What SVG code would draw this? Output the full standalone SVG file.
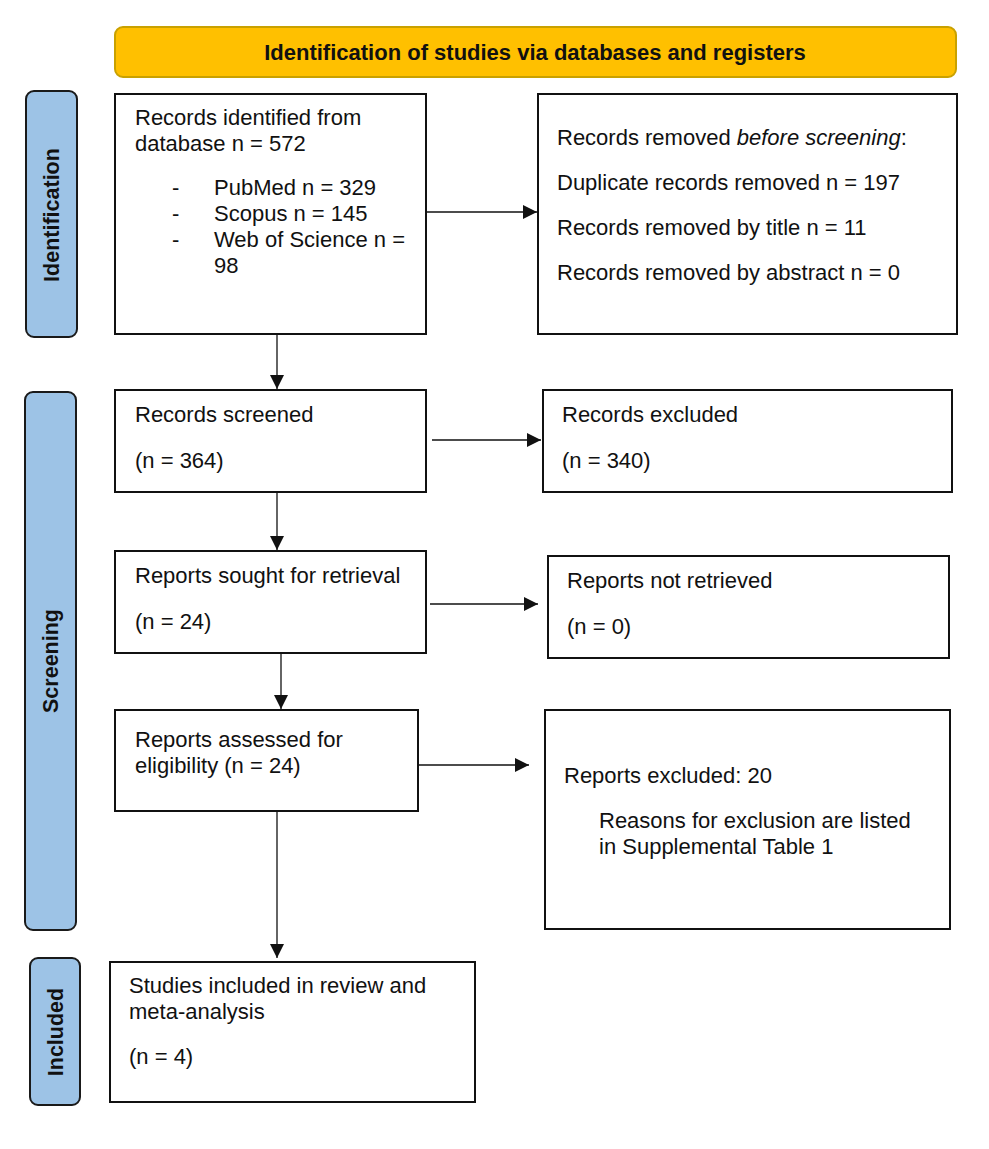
<svg xmlns="http://www.w3.org/2000/svg" width="989" height="1149" viewBox="0 0 989 1149">
<style>
.box{fill:#fff;stroke:#111;stroke-width:2}
.side{fill:#9DC3E6;stroke:#1a1a1a;stroke-width:2}
.t{font-family:"Liberation Sans",Arial,sans-serif;font-size:22px;fill:#111}
.st{font-family:"Liberation Sans",Arial,sans-serif;font-size:21.5px;font-weight:bold;fill:#111}
.ln{stroke:#111;stroke-width:1.3;fill:none}
</style>
<defs>
<marker id="ah" viewBox="0 0 14 14" refX="14" refY="7" markerWidth="14" markerHeight="14" markerUnits="userSpaceOnUse" orient="auto">
<path d="M0,0 L14,7 L0,14 z" fill="#111"/>
</marker>
</defs>
<rect width="989" height="1149" fill="#fff"/>
<g id="header">
<rect x="115" y="27" width="841" height="50" rx="8" fill="#FFC000" stroke="#C9A100" stroke-width="2"/>
<text x="535" y="60" text-anchor="middle" class="st" style="font-size:22px">Identification of studies via databases and registers</text>
</g>
<g id="side-identification">
<rect class="side" x="26" y="91" width="51" height="246" rx="8"/>
<text class="st" transform="translate(59,215) rotate(-90)" text-anchor="middle">Identification</text>
</g>
<g id="side-screening">
<rect class="side" x="25" y="392" width="51" height="538" rx="8"/>
<text class="st" transform="translate(58,661) rotate(-90)" text-anchor="middle">Screening</text>
</g>
<g id="side-included">
<rect class="side" x="30" y="958" width="50" height="147" rx="8"/>
<text class="st" transform="translate(63,1032) rotate(-90)" text-anchor="middle">Included</text>
</g>
<g id="records-identified">
<rect class="box" x="115" y="94" width="311" height="240"/>
<text class="t" x="135" y="125">Records identified from</text>
<text class="t" x="135" y="151">database n = 572</text>
<text class="t" x="172" y="195">-</text><text class="t" x="214" y="195">PubMed n = 329</text>
<text class="t" x="172" y="221">-</text><text class="t" x="214" y="221">Scopus n = 145</text>
<text class="t" x="172" y="247">-</text><text class="t" x="214" y="247">Web of Science n =</text>
<text class="t" x="214" y="273">98</text>
</g>
<g id="records-removed">
<rect class="box" x="538" y="94" width="419" height="240"/>
<text class="t" x="557" y="145">Records removed <tspan font-style="italic">before screening</tspan>:</text>
<text class="t" x="557" y="190">Duplicate records removed n = 197</text>
<text class="t" x="557" y="235">Records removed by title n = 11</text>
<text class="t" x="557" y="280">Records removed by abstract n = 0</text>
</g>
<g id="records-screened">
<rect class="box" x="115" y="390" width="311" height="102"/>
<text class="t" x="135" y="422">Records screened</text>
<text class="t" x="135" y="468">(n = 364)</text>
</g>
<g id="records-excluded">
<rect class="box" x="543" y="390" width="409" height="102"/>
<text class="t" x="562" y="422">Records excluded</text>
<text class="t" x="562" y="468">(n = 340)</text>
</g>
<g id="reports-sought">
<rect class="box" x="115" y="551" width="311" height="102"/>
<text class="t" x="135" y="583">Reports sought for retrieval</text>
<text class="t" x="135" y="629">(n = 24)</text>
</g>
<g id="reports-not-retrieved">
<rect class="box" x="548" y="556" width="401" height="102"/>
<text class="t" x="567" y="588">Reports not retrieved</text>
<text class="t" x="567" y="634">(n = 0)</text>
</g>
<g id="reports-assessed">
<rect class="box" x="115" y="710" width="303" height="101"/>
<text class="t" x="135" y="747">Reports assessed for</text>
<text class="t" x="135" y="773">eligibility (n = 24)</text>
</g>
<g id="reports-excluded">
<rect class="box" x="545" y="710" width="405" height="219"/>
<text class="t" x="564" y="783">Reports excluded: 20</text>
<text class="t" x="599" y="828">Reasons for exclusion are listed</text>
<text class="t" x="599" y="854">in Supplemental Table 1</text>
</g>
<g id="studies-included">
<rect class="box" x="110" y="962" width="365" height="140"/>
<text class="t" x="129" y="993">Studies included in review and</text>
<text class="t" x="129" y="1019">meta-analysis</text>
<text class="t" x="129" y="1064">(n = 4)</text>
</g>
<g id="connectors">
<line class="ln" x1="277" y1="335" x2="277" y2="389" marker-end="url(#ah)"/>
<line class="ln" x1="427" y1="212" x2="537" y2="212" marker-end="url(#ah)"/>
<line class="ln" x1="432" y1="440" x2="541" y2="440" marker-end="url(#ah)"/>
<line class="ln" x1="277" y1="493" x2="277" y2="550" marker-end="url(#ah)"/>
<line class="ln" x1="430" y1="604" x2="538" y2="604" marker-end="url(#ah)"/>
<line class="ln" x1="281" y1="654" x2="281" y2="709" marker-end="url(#ah)"/>
<line class="ln" x1="419" y1="765" x2="529" y2="765" marker-end="url(#ah)"/>
<line class="ln" x1="277" y1="812" x2="277" y2="958" marker-end="url(#ah)"/>
</g>
</svg>
